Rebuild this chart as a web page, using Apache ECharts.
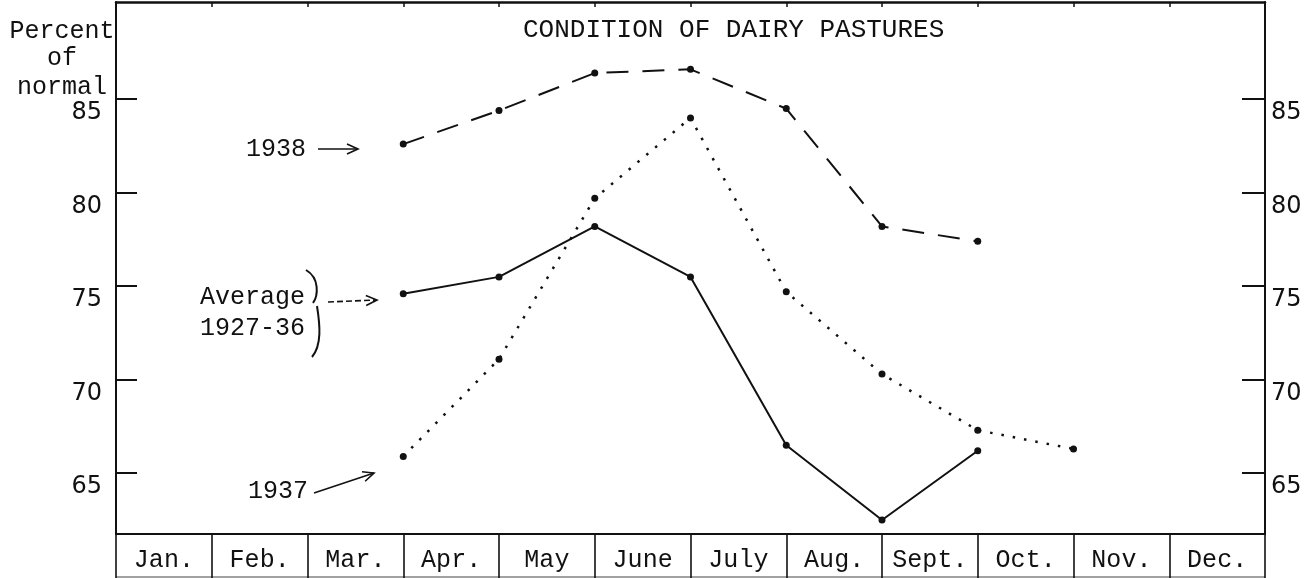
<!DOCTYPE html>
<html><head><meta charset="utf-8">
<script src="https://cdn.jsdelivr.net/npm/echarts@6/dist/echarts.min.js"></script>
<style>html,body{margin:0;padding:0;background:#fff}#c{width:1309px;height:578px}</style>
</head><body><div id="c"></div>
<script>
const months = ['Jan.','Feb.','Mar.','Apr.','May','June','July','Aug.','Sept.','Oct.','Nov.','Dec.'];
const yTicks = [65, 70, 75, 80, 85];
// readings taken at the start of each month
const pointMonths1938 = ['Apr.','May','June','July','Aug.','Sept.','Oct.'];
const values1938 = [82.6, 84.4, 86.4, 86.6, 84.5, 78.2, 77.4];
const pointMonths1937 = ['Apr.','May','June','July','Aug.','Sept.','Oct.','Nov.'];
const values1937 = [65.9, 71.1, 79.7, 84.0, 74.7, 70.3, 67.3, 66.3];
const pointMonthsAvg = ['Apr.','May','June','July','Aug.','Sept.','Oct.'];
const valuesAvg = [74.6, 75.5, 78.2, 75.5, 66.5, 62.5, 66.2];

const INK = '#111';
const MONO = '"Liberation Mono", "DejaVu Sans Mono", monospace';
const NUM = '"DejaVu Sans", sans-serif';
const toPairs = (ms, vs) => ms.map((m, i) => [months.indexOf(m), vs[i]]);

const chart = echarts.init(document.getElementById('c'), null, {renderer: 'canvas'});

function yAx(pos, margin, tickLen) {
  return {
    type: 'value', position: pos, min: 61.75, max: 90.2,
    axisLine: {show: true, lineStyle: {color: INK, width: 2}},
    axisTick: {show: true, inside: true, length: tickLen, customValues: yTicks, lineStyle: {color: INK, width: 2}},
    axisLabel: {show: true, customValues: yTicks, margin: margin, fontFamily: NUM, fontSize: 24, color: INK,
      verticalAlign: 'top', lineHeight: 24, padding: [2, 0, 0, 0]},
    splitLine: {show: false}
  };
}
function arrowHead(x, y, dx, dy) {
  const L = Math.hypot(dx, dy), ux = dx / L, uy = dy / L, px = -uy, py = ux;
  const bx = x - ux * 11, by = y - uy * 11;
  return {type: 'polyline', shape: {points: [[bx + px * 5, by + py * 5], [x, y], [bx - px * 5, by - py * 5]]},
    style: {stroke: INK, lineWidth: 1.6, fill: null}};
}
const txt = (x, y, t, align, size) => ({type: 'text', x: x, y: y,
  style: {text: t, font: (size || 25) + 'px ' + MONO, fill: INK, align: align || 'left', verticalAlign: 'middle'}});

const option = {
  animation: false,
  backgroundColor: '#fff',
  grid: {left: 116, right: 44, top: 2, bottom: 44},
  title: {text: 'CONDITION OF DAIRY PASTURES', left: 518, top: 12,
    textStyle: {fontFamily: MONO, fontSize: 26, fontWeight: 'normal', color: INK}},
  xAxis: [
    {type: 'category', data: months, position: 'bottom', boundaryGap: true,
      axisLine: {lineStyle: {color: INK, width: 2}},
      axisTick: {show: true, interval: 0, length: 44, lineStyle: {color: INK, width: 1.6}},
      axisLabel: {interval: 0, margin: 14, fontFamily: MONO, fontSize: 25, color: INK, lineHeight: 25}},
    {type: 'category', data: months, position: 'top', boundaryGap: true,
      axisLine: {lineStyle: {color: INK, width: 2.5}},
      axisTick: {show: true, interval: 0, inside: true, length: 5, lineStyle: {color: INK, width: 1.5}},
      axisLabel: {show: false}},
    {type: 'value', min: 0, max: 12, show: false}
  ],
  yAxis: [yAx('left', 14, 21), yAx('right', 6, 23)],
  series: [
    {name: '1938', type: 'line', xAxisIndex: 2, yAxisIndex: 0, data: toPairs(pointMonths1938, values1938),
      symbol: 'circle', symbolSize: 7, itemStyle: {color: INK},
      lineStyle: {color: INK, width: 2, type: [22, 14]}},
    {name: '1937', type: 'line', xAxisIndex: 2, yAxisIndex: 0, data: toPairs(pointMonths1937, values1937),
      symbol: 'circle', symbolSize: 7, itemStyle: {color: INK},
      lineStyle: {color: INK, width: 2.5, type: [2.5, 9]}},
    {name: 'Average 1927-36', type: 'line', xAxisIndex: 2, yAxisIndex: 0, data: toPairs(pointMonthsAvg, valuesAvg),
      symbol: 'circle', symbolSize: 7, itemStyle: {color: INK},
      lineStyle: {color: INK, width: 2}}
  ],
  graphic: [
    txt(62, 31, 'Percent', 'center'), txt(62, 58, 'of', 'center'), txt(62, 87, 'normal', 'center'),
    txt(246, 149, '1938'),
    {type: 'line', shape: {x1: 318, y1: 149, x2: 358, y2: 149}, style: {stroke: INK, lineWidth: 1.6}},
    arrowHead(358, 149, 1, 0),
    txt(200, 297, 'Average'), txt(200, 328, '1927-36'),
    {type: 'bezierCurve', shape: {x1: 306, y1: 270, cpx1: 320, cpy1: 278, cpx2: 318, cpy2: 296, x2: 313, y2: 303},
      style: {stroke: INK, lineWidth: 2, fill: null}},
    {type: 'bezierCurve', shape: {x1: 317, y1: 306, cpx1: 320, cpy1: 325, cpx2: 322, cpy2: 345, x2: 312, y2: 357},
      style: {stroke: INK, lineWidth: 2, fill: null}},
    {type: 'line', shape: {x1: 328, y1: 302, x2: 377, y2: 300}, style: {stroke: INK, lineWidth: 1.6, lineDash: [6, 3]}},
    arrowHead(377, 300, 49, -2),
    txt(248, 491, '1937'),
    {type: 'line', shape: {x1: 314, y1: 493, x2: 374, y2: 473}, style: {stroke: INK, lineWidth: 1.6}},
    arrowHead(374, 473, 60, -20),
    {type: 'line', shape: {x1: 116, y1: 577, x2: 1265, y2: 577}, style: {stroke: '#444', lineWidth: 1.2}}
  ]
};
chart.setOption(option);
</script></body></html>
